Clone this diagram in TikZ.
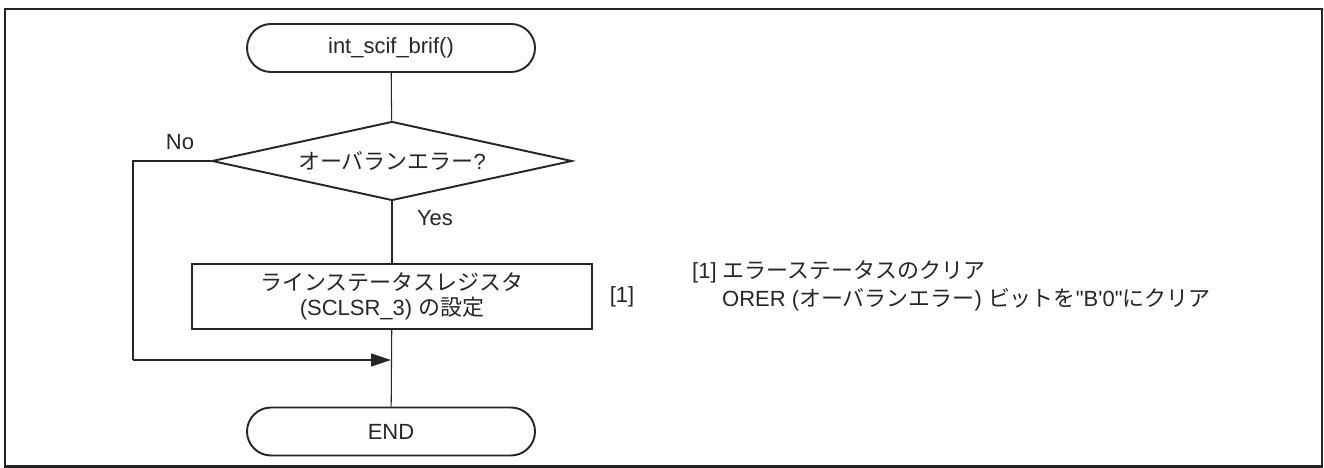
\documentclass[tikz,border=0pt]{standalone}
\usepackage{fontspec}
\setmainfont{Liberation Sans}
\newfontfamily\jp{Noto Sans CJK JP}
\usetikzlibrary{shapes.geometric,arrows.meta}
\definecolor{ink}{gray}{0.15}
\newcommand{\ja}[1]{{\jp #1}}
\tikzset{
  terminal/.style={draw=ink,line width=1.1pt,rectangle,rounded corners=0.48cm,minimum width=5.76cm,minimum height=0.96cm},
  decision/.style={draw=ink,line width=1.1pt,diamond,aspect=4.56,inner sep=0pt,minimum width=7.2cm,minimum height=1.58cm},
  process/.style={draw=ink,line width=1.1pt,rectangle,align=center,minimum width=8cm,minimum height=1.3cm},
  flow/.style={draw=ink,line width=0.6pt},
  tip/.style={-{Triangle[length=0.4cm,width=0.26cm]}}
}
\begin{document}
\begin{tikzpicture}[font=\fontsize{12.5pt}{14.5pt}\selectfont,text=ink]
\useasboundingbox (0,0) rectangle (26.48,9.36);
\draw[ink,line width=1.3pt] (0.1,0.03) rectangle (26.44,9.18);
\node[terminal] at (7.82,8.4) (start) {int\_scif\_brif()};
\node[decision] at (7.84,6.14) (chk) {\ja{オーバランエラー}?};
\node[process] at (7.84,3.43) (setreg) {\ja{ラインステータスレジスタ}\\(SCLSR\_3) \ja{の設定}};
\node[terminal] at (7.82,0.73) (fin) {END};
\coordinate (nojoin) at (2.66,2.16);
\draw[flow] (start) -- (chk);
\draw[flow] (chk) -- (setreg);
\draw[flow] (setreg) -- (fin);
\draw[flow] (chk.west) -| (nojoin);
\draw[flow,tip] (nojoin) -- (nojoin -| fin);
\node at (3.6,6.52) (nolbl) {No};
\node at (8.7,5.0) (yeslbl) {Yes};
\node at (12.44,3.43) (ref) {[1]};
\node[anchor=west] at (13.72,3.92) (note1) {[1] \ja{エラーステータスのクリア}};
\node[anchor=west] at (14.32,3.36) (note2) {ORER (\ja{オーバランエラー}) \ja{ビットを}\textquotedbl B\textquotesingle 0\textquotedbl\ja{にクリア}};
\end{tikzpicture}
\end{document}
